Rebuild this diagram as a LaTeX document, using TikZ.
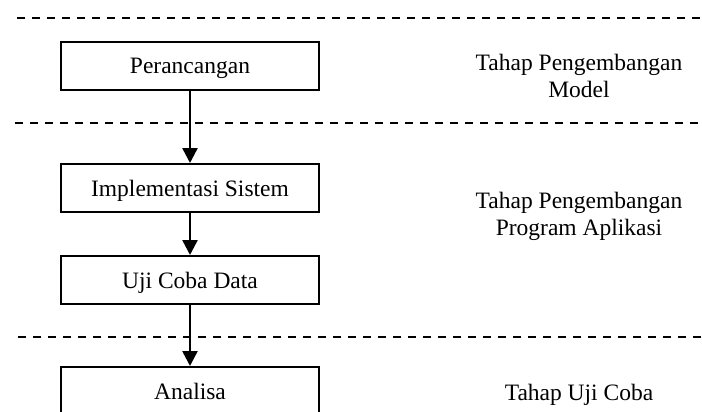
\documentclass[tikz,border=0pt]{standalone}
\usepackage{fontspec}
\setmainfont{Liberation Serif}
\usetikzlibrary{arrows.meta}

\begin{document}
\begin{tikzpicture}
[
    x=1pt, y=-1pt,
    tahap/.style={draw, line width=2pt, minimum width=258pt, minimum height=48pt,
        inner sep=0pt, text depth=0pt, font=\fontsize{23.5}{27}\selectfont},
    ket/.style={align=center, inner sep=0pt, font=\fontsize{23.5}{27}\selectfont},
    batas/.style={line width=2.5pt, dash pattern=on 8pt off 7pt},
    panah/.style={line width=2.5pt, -{Triangle[length=15pt, width=15pt]}},
]
\useasboundingbox (0,0) rectangle (702,412);
\clip (0,0) rectangle (702,412);

% garis batas tiap tahap
\draw[batas] (17,18) -- (702,18);
\draw[batas] (15,123) -- (702,123);
\draw[batas] (18,337) -- (702,337);

% kotak kegiatan
\node[tahap] (rancang) at (190,66) {Perancangan};
\node[tahap] (implementasi) at (190,188) {Implementasi Sistem};
\node[tahap] (ujicoba) at (190,280) {Uji Coba Data};
\node[tahap] (analisa) at (190,391) {Analisa};

\draw[panah] (rancang) -- (implementasi);
\draw[panah] (implementasi) -- (ujicoba);
\draw[panah] (ujicoba) -- (analisa);

% keterangan tahap
\node[ket] (model) at (579,76) {Tahap Pengembangan\\Model};
\node[ket] (aplikasi) at (579,216) {Tahap Pengembangan\\Program Aplikasi};
\node[ket] (uji) at (579,395) {Tahap Uji Coba};
\end{tikzpicture}
\end{document}
